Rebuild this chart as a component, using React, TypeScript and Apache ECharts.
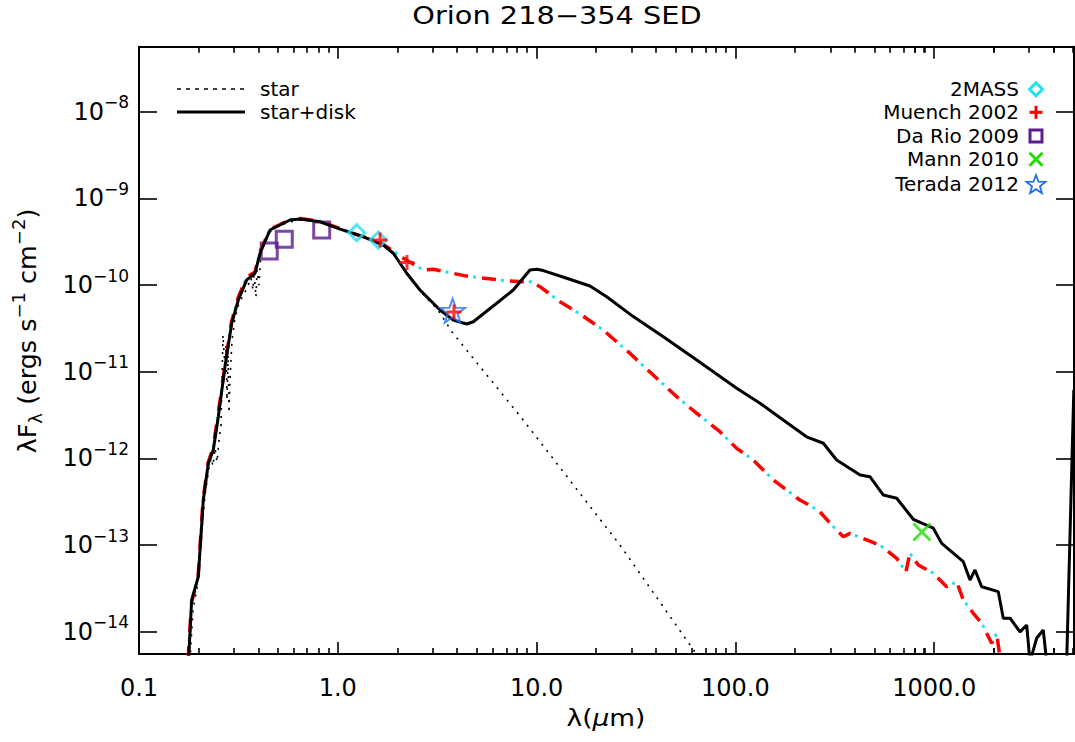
import React, { useEffect, useRef } from "react";
import * as echarts from "echarts";

// ---------- data: wavelength in micron, lambda*F_lambda in erg s^-1 cm^-2 ----------
const starWave = [0.1805, 0.1869, 0.1958, 0.2051, 0.2148, 0.225, 0.2303, 0.2357, 0.2412, 0.2469, 0.2526, 0.2585, 0.2645, 0.2708, 0.2739, 0.2771, 0.2804, 0.2836, 0.2869, 0.2937, 0.3041, 0.3184, 0.3334, 0.3494, 0.366, 0.3745, 0.3789, 0.3877, 0.3923, 0.4015, 0.4109, 0.4354, 0.456, 0.5001, 0.5749, 0.6839, 0.8327, 1.026, 1.293, 1.631, 1.874, 2.178, 2.591, 3.192, 3.753, 5.83, 8.41, 26.3, 64.1, 74.5];
const starFlux = [4.7e-15, 1.79e-14, 3.21e-14, 1.15e-13, 3.79e-13, 7.76e-13, 1.01e-12, 8.18e-13, 1.32e-12, 9.12e-13, 1.63e-12, 2.43e-12, 2.65e-11, 1.05e-11, 2.04e-11, 4.73e-12, 1.56e-11, 3.35e-12, 8.04e-12, 2.33e-11, 4.18e-11, 6.21e-11, 7.48e-11, 9.27e-11, 1.21e-10, 8.77e-11, 1.42e-10, 7.29e-11, 1.49e-10, 1.0e-10, 2.41e-10, 3.49e-10, 4.09e-10, 4.81e-10, 5.35e-10, 5.78e-10, 5.35e-10, 4.56e-10, 3.78e-10, 3.06e-10, 2.41e-10, 1.49e-10, 8.55e-11, 5.16e-11, 2.88e-11, 8.26e-12, 2.93e-12, 1.0e-13, 5.42e-15, 3.44e-15];

const diskWave = [0.1774, 0.184, 0.1987, 0.2106, 0.2232, 0.2364, 0.2506, 0.2708, 0.2926, 0.3159, 0.3482, 0.3833, 0.4062, 0.456, 0.512, 0.575, 0.645, 0.814, 1.026, 1.344, 1.694, 1.902, 2.222, 2.591, 3.267, 3.811, 4.45, 4.804, 6.3, 7.63, 9.26, 10.01, 10.81, 14.17, 18.56, 22.52, 30.64, 43.4, 63.9, 101.5, 133, 174, 228, 277, 323, 424, 475, 555, 648, 785, 990, 1091, 1401, 1514, 1604, 1733, 2101, 2226, 2406, 2702, 2920, 3033, 3279, 3538, 3680, 4639, 5040];
const diskFlux = [4.5e-15, 2.33e-14, 4.33e-14, 3.32e-13, 8.81e-13, 1.25e-12, 3.03e-12, 1.15e-11, 3.62e-11, 6.73e-11, 1.15e-10, 1.37e-10, 2.33e-10, 4.32e-10, 4.93e-10, 5.64e-10, 5.78e-10, 5.38e-10, 4.43e-10, 3.61e-10, 2.9e-10, 2.33e-10, 1.37e-10, 8.77e-11, 5.16e-11, 3.95e-11, 3.56e-11, 3.78e-11, 6.17e-11, 8.77e-11, 1.49e-10, 1.52e-10, 1.47e-10, 1.2e-10, 9.77e-11, 7.35e-11, 4.33e-11, 2.54e-11, 1.37e-11, 6.46e-12, 4.34e-12, 2.78e-12, 1.78e-12, 1.5e-12, 9.61e-13, 6.46e-13, 6.17e-13, 3.79e-13, 3.48e-13, 1.99e-13, 1.57e-13, 1.05e-13, 6.46e-14, 3.97e-14, 5.18e-14, 3.32e-14, 2.91e-14, 1.44e-14, 1.44e-14, 1.0e-14, 1.2e-14, 4.5e-15, 8.5e-15, 1.05e-14, 4.5e-15, 4.5e-15, 6.2e-12];

const modelWave = [0.1764, 0.1836, 0.1981, 0.2099, 0.2224, 0.2357, 0.2497, 0.2708, 0.2919, 0.3148, 0.3482, 0.3833, 0.4062, 0.456, 0.512, 0.575, 0.645, 0.814, 1.026, 1.293, 1.569, 1.762, 2.128, 2.692, 3.022, 4.45, 7.07, 8.57, 9.45, 10.4, 13.11, 16.53, 21.65, 29.5, 38.6, 50.7, 63.9, 83.6, 101.5, 123, 155, 181, 211, 240, 266, 311, 349, 377, 458, 534, 648, 721, 755, 832, 990, 1156, 1298, 1401, 1573, 1733, 1946, 2062, 2168];
const modelFlux = [4.7e-15, 2.15e-14, 4.19e-14, 3.32e-13, 8.87e-13, 1.32e-12, 3.18e-12, 1.2e-11, 3.75e-11, 7.1e-11, 1.24e-10, 1.42e-10, 2.41e-10, 4.43e-10, 5.0e-10, 5.72e-10, 5.85e-10, 5.45e-10, 4.5e-10, 3.7e-10, 3.31e-10, 2.77e-10, 2.06e-10, 1.49e-10, 1.52e-10, 1.27e-10, 1.12e-10, 1.09e-10, 1.09e-10, 9.59e-11, 6.44e-11, 4.65e-11, 3.03e-11, 1.63e-11, 9.18e-12, 5.16e-12, 3.32e-12, 2.04e-12, 1.31e-12, 9.61e-13, 5.65e-13, 4.34e-13, 3.32e-13, 2.83e-13, 2.43e-13, 1.63e-13, 1.25e-13, 1.37e-13, 1.15e-13, 1.0e-13, 7.06e-14, 4.94e-14, 8.07e-14, 5.91e-14, 4.74e-14, 3.32e-14, 3.79e-14, 2.33e-14, 1.64e-14, 1.26e-14, 7.4e-15, 9.64e-15, 4.15e-15];

const twomassWave = [1.245, 1.599];
const twomassFlux = [4.02e-10, 3.31e-10];
const muenchWave = [1.631, 2.228, 3.84];
const muenchFlux = [3.31e-10, 1.82e-10, 4.9e-11];
const darioWave = [0.452, 0.538, 0.83];
const darioFlux = [2.47e-10, 3.37e-10, 4.32e-10];
const mannWave = [868];
const mannFlux = [1.42e-13];
const teradaWave = [3.78];
const teradaFlux = [5.07e-11];

const xTickValues = [0.1, 1, 10, 100, 1000];
const xTickLabels = ["0.1", "1.0", "10.0", "100.0", "1000.0"];
const yTickExponents = [-14, -13, -12, -11, -10, -9, -8];
const minorMultipliers = [2, 3, 4, 5, 6, 7, 8, 9];
const xRange = [0.1, 5050];
const yRange = [5.56e-15, 5.62e-8];

const legendLeft = ["star", "star+disk"];
const legendRight = ["2MASS", "Muench 2002", "Da Rio 2009", "Mann 2010", "Terada 2012"];

// ---------- helpers ----------
const lg = Math.log10;
const pairs = (w: number[], f: number[]) => w.map((x, i) => [lg(x), lg(f[i])]);
const FONT = '"DejaVu Sans", "Noto Sans", sans-serif';

const C_CYAN = "#22e0f0";
const C_RED = "#ff0000";
const C_PURPLE = "#5b1a8e";
const C_GREEN = "#22dd00";
const C_BLUE = "#1f6ff0";

// plot frame (pixels)
const G_LEFT = 139;
const G_RIGHT = 1;
const G_TOP = 46.7;
const G_BOTTOM = 88;
const G_WIDTH = 1075 - G_LEFT - G_RIGHT;

function starPoints(cx: number, cy: number, R: number, r: number) {
  const pts: number[][] = [];
  for (let i = 0; i < 10; i++) {
    const a = -Math.PI / 2 + (i * Math.PI) / 5;
    const rr = i % 2 === 0 ? R : r;
    pts.push([cx + rr * Math.cos(a), cy + rr * Math.sin(a)]);
  }
  return pts;
}
const starSymbol =
  "path://" +
  starPoints(50, 50, 50, 20)
    .map((p, i) => (i === 0 ? "M" : "L") + p[0].toFixed(2) + "," + p[1].toFixed(2))
    .join("") +
  "Z";
const plusSymbol = "path://M5,0L5,10M0,5L10,5";
const crossSymbol = "path://M0,0L10,10M10,0L0,10";

const xMin = lg(xRange[0]);
const xMax = lg(xRange[1]);
const yMin = lg(yRange[0]);
const yMax = lg(yRange[1]);
const xMajor = xTickValues.map(lg);
const pxPerDecade = G_WIDTH / (xMax - xMin);
const isInt = (v: number) => Math.abs(v - Math.round(v)) < 1e-6;

function buildGraphics(): any[] {
  const lx = 1036;
  const rowsY = [89.3, 112.3, 136, 159.3, 184];
  return [
    {
      type: "text",
      x: 557,
      y: 15,
      scaleX: 1.2,
      style: { text: "Orion 218−354 SED", font: `24px ${FONT}`, fill: "#000", textAlign: "center", textVerticalAlign: "middle" },
    },
    {
      type: "text",
      x: 606,
      y: 718,
      scaleX: 1.15,
      style: {
        text: "{a|λ(}{i|μ}{a|m)}",
        textAlign: "center",
        textVerticalAlign: "middle",
        rich: {
          a: { fontSize: 23, fontFamily: FONT, fill: "#000" },
          i: { fontSize: 23, fontFamily: FONT, fontStyle: "italic", fill: "#000" },
        },
      },
    },
    {
      type: "text",
      x: 28,
      y: 331,
      rotation: Math.PI / 2,
      scaleX: 1.06,
      style: {
        text: "{b|λF}{sub|λ}{b| (ergs s}{sup|−1}{b| cm}{sup|−2}{b|)}",
        textAlign: "center",
        textVerticalAlign: "middle",
        rich: {
          b: { fontSize: 24, lineHeight: 34, fontFamily: FONT, fill: "#000" },
          sup: { fontSize: 17, lineHeight: 14, verticalAlign: "top", fontFamily: FONT, fill: "#000" },
          sub: { fontSize: 17, lineHeight: 22, verticalAlign: "bottom", fontFamily: FONT, fill: "#000" },
        },
      },
    },
    // left legend
    { type: "line", shape: { x1: 177, y1: 89, x2: 245, y2: 89 }, style: { stroke: "#000", lineWidth: 1.5, lineDash: [4, 5] } },
    { type: "line", shape: { x1: 177, y1: 112, x2: 245, y2: 112 }, style: { stroke: "#000", lineWidth: 3 } },
    { type: "text", x: 260, y: 89, style: { text: legendLeft[0], font: `20px ${FONT}`, fill: "#000", textVerticalAlign: "middle" } },
    { type: "text", x: 260, y: 112, style: { text: legendLeft[1], font: `20px ${FONT}`, fill: "#000", textVerticalAlign: "middle" } },
    // right legend
    ...legendRight.map((t, i) => ({
      type: "text",
      x: 1019,
      y: rowsY[i],
      style: { text: t, font: `20px ${FONT}`, fill: "#000", textAlign: "right", textVerticalAlign: "middle" },
    })),
    {
      type: "polygon",
      shape: { points: [[lx, rowsY[0] - 6.5], [lx + 6.5, rowsY[0]], [lx, rowsY[0] + 6.5], [lx - 6.5, rowsY[0]]] },
      style: { fill: "none", stroke: C_CYAN, lineWidth: 3 },
    },
    { type: "line", shape: { x1: lx - 6.5, y1: rowsY[1], x2: lx + 6.5, y2: rowsY[1] }, style: { stroke: C_RED, lineWidth: 3 } },
    { type: "line", shape: { x1: lx, y1: rowsY[1] - 6.5, x2: lx, y2: rowsY[1] + 6.5 }, style: { stroke: C_RED, lineWidth: 3 } },
    { type: "rect", shape: { x: lx - 6, y: rowsY[2] - 6, width: 12, height: 12 }, style: { fill: "none", stroke: C_PURPLE, lineWidth: 3 } },
    { type: "line", shape: { x1: lx - 6.5, y1: rowsY[3] - 6.5, x2: lx + 6.5, y2: rowsY[3] + 6.5 }, style: { stroke: C_GREEN, lineWidth: 3 } },
    { type: "line", shape: { x1: lx - 6.5, y1: rowsY[3] + 6.5, x2: lx + 6.5, y2: rowsY[3] - 6.5 }, style: { stroke: C_GREEN, lineWidth: 3 } },
    { type: "polygon", shape: { points: starPoints(lx, rowsY[4] + 1, 10, 4.2) }, style: { fill: "none", stroke: C_BLUE, lineWidth: 1.8 } },
  ];
}

function buildOption() {
  const frameLine = () => ({ show: true, onZero: false, lineStyle: { color: "#000", width: 2 } });
  const tick = (len: number) => ({ show: true, inside: true, length: len, lineStyle: { color: "#000", width: 1.6 } });

  const grids: any[] = [{ left: G_LEFT, right: G_RIGHT, top: G_TOP, bottom: G_BOTTOM, containLabel: false, outerBoundsMode: "none" }];
  const xAxes: any[] = [
    {
      type: "value",
      gridIndex: 0,
      min: xMin,
      max: xMax,
      interval: 1,
      position: "bottom",
      splitLine: { show: false },
      axisLine: frameLine(),
      axisTick: tick(12),
      axisLabel: {
        show: true,
        margin: 22,
        color: "#000",
        fontSize: 24,
        fontFamily: FONT,
        formatter: (v: number) => {
          const i = xMajor.findIndex((m) => Math.abs(m - v) < 1e-6);
          return i >= 0 ? xTickLabels[i] : "";
        },
      },
    },
    {
      type: "value",
      gridIndex: 0,
      min: xMin,
      max: xMax,
      interval: 1,
      position: "top",
      splitLine: { show: false },
      axisLine: frameLine(),
      axisTick: tick(12),
      axisLabel: { show: false },
    },
  ];
  const yAxes: any[] = [
    {
      type: "value",
      gridIndex: 0,
      min: yMin,
      max: yMax,
      position: "left",
      splitLine: { show: false },
      axisLine: frameLine(),
      axisTick: tick(18),
      axisLabel: {
        show: true,
        margin: 10,
        formatter: (v: number) => (isInt(v) && yTickExponents.indexOf(Math.round(v)) >= 0 ? `{b|10}{s|−${Math.abs(Math.round(v))}}` : ""),
        rich: {
          b: { fontSize: 24, lineHeight: 36, fontFamily: FONT, color: "#000" },
          s: { fontSize: 17, lineHeight: 14, verticalAlign: "top", fontFamily: FONT, color: "#000" },
        },
      },
    },
    {
      type: "value",
      gridIndex: 0,
      min: yMin,
      max: yMax,
      position: "right",
      splitLine: { show: false },
      axisLine: frameLine(),
      axisTick: tick(18),
      axisLabel: { show: false },
    },
  ];

  // minor ticks at k x 10^n: one overlay frame per multiplier k, same scale as the main x axis,
  // whose axis starts at log10(k) - 1 so that its unit-interval ticks fall on k x 10^n
  minorMultipliers.forEach((k) => {
    const mMin = lg(k) + xMin;
    let mMax = mMin + 4;
    if (mMax > xMax + 1e-9) mMax = mMin + 3;
    const gi = grids.length;
    grids.push({
      left: G_LEFT + (mMin - xMin) * pxPerDecade,
      width: (mMax - mMin) * pxPerDecade,
      top: G_TOP,
      bottom: G_BOTTOM,
      containLabel: false,
      outerBoundsMode: "none",
    });
    ["bottom", "top"].forEach((pos) => {
      xAxes.push({
        type: "value",
        gridIndex: gi,
        min: mMin,
        max: mMax,
        interval: 1,
        position: pos,
        splitLine: { show: false },
        axisLine: { show: false },
        axisTick: tick(6),
        axisLabel: { show: false },
      });
    });
    yAxes.push({ type: "value", gridIndex: gi, min: 0, max: 1, show: false });
  });

  return {
    animation: false,
    backgroundColor: "#fff",
    grid: grids,
    xAxis: xAxes,
    yAxis: yAxes,
    series: [
      {
        name: "star",
        type: "line",
        data: pairs(starWave, starFlux),
        symbol: "none",
        silent: true,
        z: 2,
        lineStyle: { color: "#000", width: 1.6, type: [2, 6] },
      },
      {
        name: "model-red",
        type: "line",
        data: pairs(modelWave, modelFlux),
        symbol: "none",
        silent: true,
        z: 2,
        lineStyle: { color: C_RED, width: 3.5, type: [14, 14] },
      },
      {
        name: "model-cyan",
        type: "line",
        data: pairs(modelWave, modelFlux),
        symbol: "none",
        silent: true,
        z: 2,
        lineStyle: { color: C_CYAN, width: 3, type: [3, 25], dashOffset: 8.5 },
      },
      {
        name: "star+disk",
        type: "line",
        data: pairs(diskWave, diskFlux),
        symbol: "none",
        silent: true,
        z: 2,
        lineStyle: { color: "#000", width: 3 },
      },
      {
        name: "Da Rio 2009",
        type: "scatter",
        data: pairs(darioWave, darioFlux),
        symbol: "rect",
        symbolSize: 16,
        z: 1,
        itemStyle: { color: "rgba(0,0,0,0)", borderColor: C_PURPLE, borderWidth: 3 },
      },
      {
        name: "2MASS",
        type: "scatter",
        data: pairs(twomassWave, twomassFlux),
        symbol: "diamond",
        symbolSize: 16,
        z: 3,
        itemStyle: { color: "rgba(0,0,0,0)", borderColor: C_CYAN, borderWidth: 3 },
      },
      {
        name: "Terada 2012",
        type: "scatter",
        data: pairs(teradaWave, teradaFlux),
        symbol: starSymbol,
        symbolSize: 25,
        symbolKeepAspect: true,
        z: 3,
        itemStyle: { color: "rgba(0,0,0,0)", borderColor: C_BLUE, borderWidth: 2 },
      },
      {
        name: "Muench 2002",
        type: "scatter",
        data: pairs(muenchWave, muenchFlux),
        symbol: plusSymbol,
        symbolSize: 15,
        z: 4,
        itemStyle: { color: "rgba(0,0,0,0)", borderColor: C_RED, borderWidth: 3 },
      },
      {
        name: "Mann 2010",
        type: "scatter",
        data: pairs(mannWave, mannFlux),
        symbol: crossSymbol,
        symbolSize: 17,
        z: 4,
        itemStyle: { color: "rgba(0,0,0,0)", borderColor: C_GREEN, borderWidth: 3 },
      },
    ],
    graphic: buildGraphics(),
  };
}

export default function App() {
  const ref = useRef<HTMLDivElement>(null);
  useEffect(() => {
    if (!ref.current) return;
    const chart = echarts.init(ref.current, null, { renderer: "svg" });
    chart.setOption(buildOption() as any);
    return () => chart.dispose();
  }, []);
  return (
    <div
      ref={ref}
      style={{ position: "fixed", left: 0, top: 0, width: 1075, height: 742, background: "#fff" }}
    />
  );
}
